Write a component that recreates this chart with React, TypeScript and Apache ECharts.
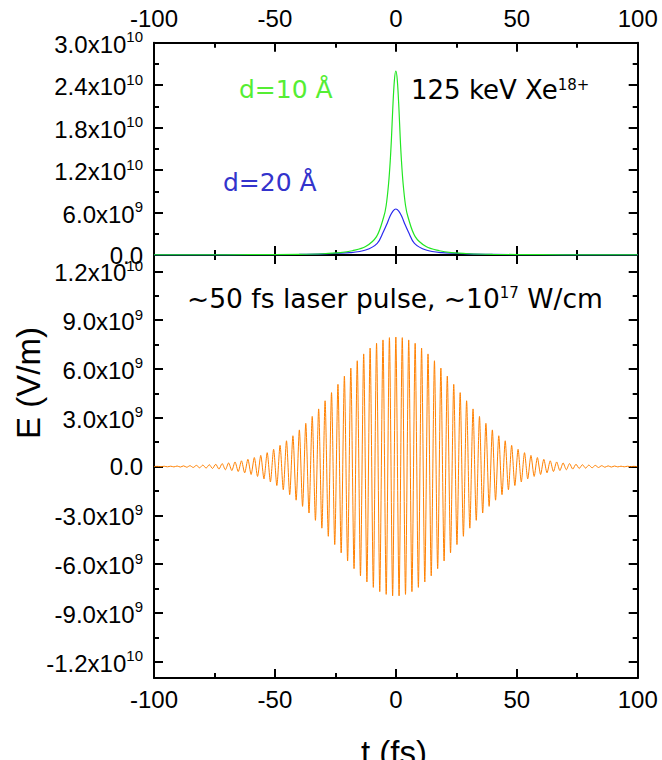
import React, { useEffect, useRef } from 'react';
import * as echarts from 'echarts';

// ---------- data ----------
const xTicks = [-100, -50, 0, 50, 100];
const topYTicks = [0, 6e9, 1.2e10, 1.8e10, 2.4e10, 3.0e10];
const topYMinorTicks = [3e9, 9e9, 1.5e10, 2.1e10, 2.7e10];
const bottomYTicks = [-1.2e10, -9e9, -6e9, -3e9, 0, 3e9, 6e9, 9e9, 1.2e10];
const bottomYMinorTicks = [-1.05e10, -7.5e9, -4.5e9, -1.5e9, 1.5e9, 4.5e9, 7.5e9, 1.05e10];

// d = 10 Å field (units of 1e9 V/m)
const d10Times = [-100, -80, -60, -40, -30, -23, -18, -12.5, -8, -5, -4, -3, -2.3, -1.8, -1.3, -0.6, 0,
  0.6, 1.3, 1.8, 2.3, 3, 4, 5, 8, 12.5, 18, 23, 30, 40, 60, 80, 100];
const d10Values = [0.01, 0.02, 0.04, 0.1, 0.18, 0.33, 0.6, 1.2, 2.6, 5.4, 7.0, 10.1, 13.4, 16.6, 20.5, 24.7, 26.0,
  24.7, 20.5, 16.6, 13.4, 10.1, 7.0, 5.4, 2.6, 1.2, 0.6, 0.33, 0.18, 0.1, 0.04, 0.02, 0.01];

// d = 20 Å field (units of 1e9 V/m)
const d20Times = [-100, -80, -60, -40, -30, -19, -12.5, -7.7, -5.2, -3.8, -2.5, -1.2, 0,
  1.2, 2.5, 3.8, 5.2, 7.7, 12.5, 19, 30, 40, 60, 80, 100];
const d20Values = [0.01, 0.02, 0.04, 0.08, 0.15, 0.33, 0.7, 1.65, 3.25, 4.3, 5.4, 6.2, 6.5,
  6.2, 5.4, 4.3, 3.25, 1.65, 0.7, 0.33, 0.15, 0.08, 0.04, 0.02, 0.01];

// laser pulse: signed field at each half-cycle extremum (units of 1e9 V/m), k = -75 .. 75
const laserHalfPeriodFs = 1.33;
const laserPeakValues = [
  -0.005, 0.01, -0.01, 0.015, -0.02, 0.02, -0.025, 0.03, -0.035, 0.04,
  -0.045, 0.05, -0.06, 0.07, -0.08, 0.09, -0.10, 0.11, -0.12, 0.14,
  -0.16, 0.18, -0.20, 0.22, -0.25, 0.28, -0.31, 0.35, -0.39, 0.44,
  -0.49, 0.55, -0.61, 0.68, -0.76, 0.85, -0.95, 1.06, -1.17, 1.30,
  -1.43, 1.58, -1.73, 1.89, -2.07, 2.25, -2.45, 2.65, -2.86, 3.08,
  -3.31, 3.54, -3.79, 4.04, -4.29, 4.54, -4.80, 5.05, -5.31, 5.56,
  -5.81, 6.05, -6.28, 6.50, -6.72, 6.92, -7.10, 7.28, -7.43, 7.57,
  -7.69, 7.78, -7.86, 7.92, -7.95,
  7.96,
  -7.95, 7.92, -7.86, 7.78, -7.69, 7.57, -7.43, 7.28, -7.10, 6.92,
  -6.72, 6.50, -6.28, 6.05, -5.81, 5.56, -5.31, 5.05, -4.80, 4.54,
  -4.29, 4.04, -3.79, 3.54, -3.31, 3.08, -2.86, 2.65, -2.45, 2.25,
  -2.07, 1.89, -1.73, 1.58, -1.43, 1.30, -1.17, 1.06, -0.95, 0.85,
  -0.76, 0.68, -0.61, 0.55, -0.49, 0.44, -0.39, 0.35, -0.31, 0.28,
  -0.25, 0.22, -0.20, 0.18, -0.16, 0.14, -0.12, 0.11, -0.10, 0.09,
  -0.08, 0.07, -0.06, 0.05, -0.045, 0.04, -0.035, 0.03, -0.025, 0.02,
  -0.02, 0.015, -0.01, 0.01, -0.005,
];

// ---------- styling ----------
const AF = '"Liberation Sans", Arial, sans-serif';
const TF = '"DejaVu Sans", sans-serif';
const BLACK = '#000';

function sciLabel(v: number): string {
  if (Math.abs(v) < 1) return '{m|0.0}';
  const e = Math.floor(Math.log10(Math.abs(v)) + 1e-9);
  const m = v / Math.pow(10, e);
  return `{m|${m.toFixed(1)}x10}{s|${e}}`;
}

const labelRich = {
  m: { fontSize: 24, fontFamily: AF, color: BLACK, verticalAlign: 'bottom' },
  s: { fontSize: 15, fontFamily: AF, color: BLACK, verticalAlign: 'bottom', padding: [0, 0, 12, 0] },
};

function xAxisDef(gridIndex: number, position: 'top' | 'bottom', showLabel: boolean, margin: number) {
  return {
    type: 'value',
    gridIndex,
    position,
    min: xTicks[0],
    max: xTicks[xTicks.length - 1],
    interval: 50,
    axisLine: { show: true, onZero: false, lineStyle: { color: BLACK, width: 2 } },
    axisTick: { show: true, inside: true, length: 9, lineStyle: { color: BLACK, width: 2 } },
    minorTick: { show: true, splitNumber: 2, length: 5, lineStyle: { color: BLACK, width: 2 } },
    axisLabel: { show: showLabel, margin, fontSize: 24, fontFamily: AF, color: BLACK },
    splitLine: { show: false },
    minorSplitLine: { show: false },
  };
}

function yAxisDef(gridIndex: number, position: 'left' | 'right', min: number, max: number,
  ticks: number[], major: boolean, showLabel: boolean) {
  return {
    type: 'value',
    gridIndex,
    position,
    min,
    max,
    axisLine: { show: major, onZero: false, lineStyle: { color: BLACK, width: 2 } },
    axisTick: {
      show: true, inside: true, length: major ? 9 : 5, customValues: ticks,
      lineStyle: { color: BLACK, width: 2 },
    },
    axisLabel: {
      show: showLabel, customValues: ticks, margin: 11,
      formatter: (v: number) => sciLabel(v), rich: labelRich,
    },
    splitLine: { show: false },
  };
}

function buildOption() {
  const d10Data = d10Times.map((t, i) => [t, d10Values[i] * 1e9]);
  const d20Data = d20Times.map((t, i) => [t, d20Values[i] * 1e9]);
  const half = (laserPeakValues.length - 1) / 2;
  const laserData: number[][] = [[-100, 0]];
  laserPeakValues.forEach((v, i) => laserData.push([(i - half) * laserHalfPeriodFs, v * 1e9]));
  laserData.push([100, 0]);

  const gridLeft = 154;
  const gridWidth = 483.7;

  return {
    animation: false,
    backgroundColor: '#fff',
    grid: [
      { left: gridLeft, top: 42.7, width: gridWidth, height: 212.3, containLabel: false },
      { left: gridLeft, top: 255, width: gridWidth, height: 423, containLabel: false },
    ],
    xAxis: [
      xAxisDef(0, 'top', true, 12),
      xAxisDef(0, 'bottom', false, 8),
      xAxisDef(1, 'top', false, 8),
      xAxisDef(1, 'bottom', true, 9),
    ],
    yAxis: [
      yAxisDef(0, 'left', 0, 3.0e10, topYTicks, true, true),
      yAxisDef(0, 'left', 0, 3.0e10, topYMinorTicks, false, false),
      yAxisDef(0, 'right', 0, 3.0e10, topYTicks, true, false),
      yAxisDef(0, 'right', 0, 3.0e10, topYMinorTicks, false, false),
      yAxisDef(1, 'left', -1.3e10, 1.3e10, bottomYTicks, true, true),
      yAxisDef(1, 'left', -1.3e10, 1.3e10, bottomYMinorTicks, false, false),
      yAxisDef(1, 'right', -1.3e10, 1.3e10, bottomYTicks, true, false),
      yAxisDef(1, 'right', -1.3e10, 1.3e10, bottomYMinorTicks, false, false),
    ],
    series: [
      {
        type: 'line', name: 'd=20 Å', xAxisIndex: 0, yAxisIndex: 0, data: d20Data,
        showSymbol: false, smooth: 0.35, lineStyle: { color: '#2a2aee', width: 1.2 },
      },
      {
        type: 'line', name: 'd=10 Å', xAxisIndex: 0, yAxisIndex: 0, data: d10Data,
        showSymbol: false, smooth: 0.35, lineStyle: { color: '#22e622', width: 1.2 },
      },
      {
        type: 'line', name: 'laser', xAxisIndex: 3, yAxisIndex: 4, data: laserData,
        showSymbol: false, smooth: 0.25, lineStyle: { color: '#ff8000', width: 1 },
      },
    ],
    graphic: [
      {
        type: 'text', x: 239, y: 89,
        style: {
          text: 'd=10 Å', fontSize: 25, fontFamily: TF, fill: '#55ee33',
          align: 'left', verticalAlign: 'middle', textAlign: 'left', textVerticalAlign: 'middle',
        },
      },
      {
        type: 'text', x: 223, y: 182,
        style: {
          text: 'd=20 Å', fontSize: 25, fontFamily: TF, fill: '#3333cc',
          align: 'left', verticalAlign: 'middle', textAlign: 'left', textVerticalAlign: 'middle',
        },
      },
      {
        type: 'text', x: 411, y: 90,
        style: {
          text: '{a|125 keV Xe}{s|18+}',
          align: 'left', verticalAlign: 'middle', textAlign: 'left', textVerticalAlign: 'middle',
          rich: {
            a: { fontSize: 26, fontFamily: TF, fill: BLACK, color: BLACK, verticalAlign: 'bottom' },
            s: { fontSize: 15, fontFamily: TF, fill: BLACK, color: BLACK, verticalAlign: 'bottom', padding: [0, 0, 11, 0] },
          },
        },
      },
      {
        type: 'text', x: 187, y: 298,
        style: {
          text: '{a|~50 fs laser pulse, ~10}{s|17}{a| W/cm}',
          align: 'left', verticalAlign: 'middle', textAlign: 'left', textVerticalAlign: 'middle',
          rich: {
            a: { fontSize: 26.5, fontFamily: TF, fill: BLACK, color: BLACK, verticalAlign: 'bottom' },
            s: { fontSize: 15, fontFamily: TF, fill: BLACK, color: BLACK, verticalAlign: 'bottom', padding: [0, 0, 11, 0] },
          },
        },
      },
      {
        type: 'text', x: 28, y: 383, rotation: Math.PI / 2,
        style: {
          text: 'E (V/m)', fontSize: 33, fontFamily: AF, fill: BLACK,
          align: 'center', verticalAlign: 'middle', textAlign: 'center', textVerticalAlign: 'middle',
        },
      },
      {
        type: 'text', x: 394, y: 752,
        style: {
          text: 't (fs)', fontSize: 33, fontFamily: AF, fill: BLACK,
          align: 'center', verticalAlign: 'middle', textAlign: 'center', textVerticalAlign: 'middle',
        },
      },
    ],
  };
}

export default function App() {
  const ref = useRef<HTMLDivElement>(null);
  useEffect(() => {
    if (!ref.current) return;
    const chart = echarts.init(ref.current, null, { renderer: 'svg' });
    chart.setOption(buildOption() as any);
    return () => chart.dispose();
  }, []);
  return (
    <div
      ref={ref}
      style={{ position: 'absolute', left: 0, top: 0, width: 662, height: 760, background: '#fff' }}
    />
  );
}
